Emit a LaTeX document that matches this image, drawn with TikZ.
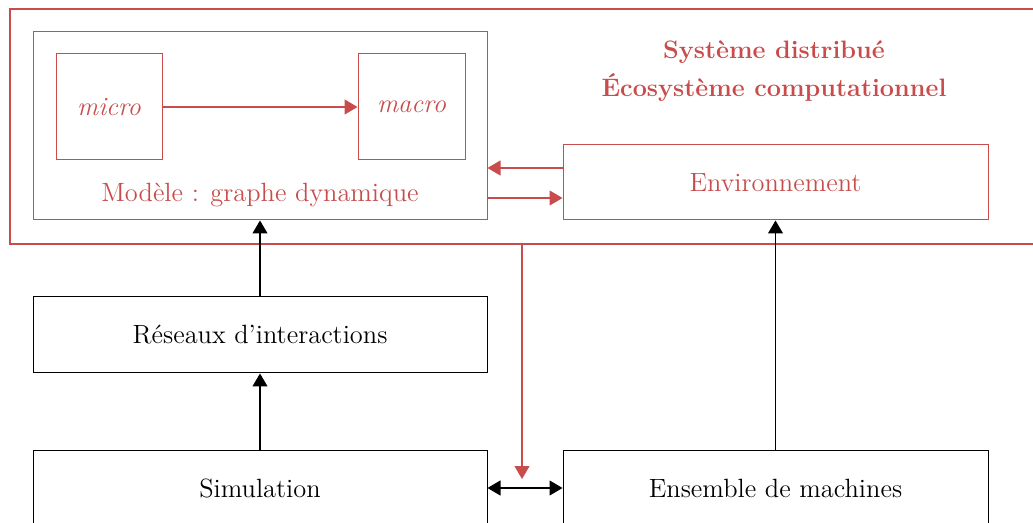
\documentclass[tikz,border=0pt]{standalone}
\usepackage{tikz}
\usetikzlibrary{positioning,arrows.meta}

\definecolor{brique}{RGB}{200,76,76}

\tikzset{
  box/.style={draw, line width=0.5pt, inner sep=0pt, font=\fontsize{13.2}{15}\selectfont},
  redbox/.style={box, draw=brique, text=brique},
  tip/.style={Triangle[length=6.5pt,width=7.5pt]},
  blackarrow/.style={black, line width=0.55pt, -{Triangle[length=6.5pt,width=7.5pt]}},
  redarrow/.style={brique, line width=0.55pt, -{Triangle[length=6.5pt,width=7.5pt]}},
}

\begin{document}
\begin{tikzpicture}[x=0.5pt, y=-0.5pt]
\useasboundingbox (0,0) rectangle (1033,523);
% system frame and title
\node[draw=brique, line width=1.1pt, minimum width=517.5pt, minimum height=117.5pt,
    inner sep=0pt] (frame) at (527.5,126.5) {};
\node[align=center, text=brique, font=\bfseries\fontsize{12.6}{19}\selectfont]
    (title) at (774,71) {Système distribué\\Écosystème computationnel};
% model
\node[redbox, minimum width=227pt, minimum height=94pt] (model) at (260,126) {};
\node[text=brique, font=\fontsize{13.2}{15}\selectfont] (modellabel) at (260,195)
    {Modèle : graphe dynamique};
\node[redbox, minimum width=53pt, minimum height=53pt, font=\itshape\fontsize{13.2}{15}\selectfont]
    (micro) at (109,107) {micro};
\node[redbox, minimum width=53.5pt, minimum height=53pt, font=\itshape\fontsize{13.2}{15}\selectfont]
    (macro) at (411.5,107) {macro};
\node[redbox, minimum width=212.5pt, minimum height=37.5pt] (env) at (775.5,182.5)
    {Environnement};
% lower part
\node[box, minimum width=227pt, minimum height=38pt] (reseaux) at (260,335)
    {Réseaux d’interactions};
\node[box, minimum width=227pt, minimum height=38pt] (sim) at (260,488)
    {Simulation};
\node[box, minimum width=212.5pt, minimum height=38pt] (machines) at (775.5,488)
    {Ensemble de machines};
\coordinate (drop) at (522,479);

\draw[redarrow] (micro) -- (macro);
\draw[redarrow] ([yshift=7.25pt]env.west) -- ([yshift=7.25pt]env.west -| model.east);
\draw[redarrow] ([yshift=-7.75pt]env.west -| model.east) -- ([yshift=-7.75pt]env.west);
\draw[redarrow] (frame.south -| drop) -- (drop);
\draw[blackarrow] (reseaux) -- (model);
\draw[blackarrow] (sim) -- (reseaux);
\draw[blackarrow] (machines) -- (env);
\draw[black, line width=0.55pt, {Triangle[length=6.5pt,width=7.5pt]}-{Triangle[length=6.5pt,width=7.5pt]}]
    (sim) -- (machines);
\end{tikzpicture}
\end{document}
